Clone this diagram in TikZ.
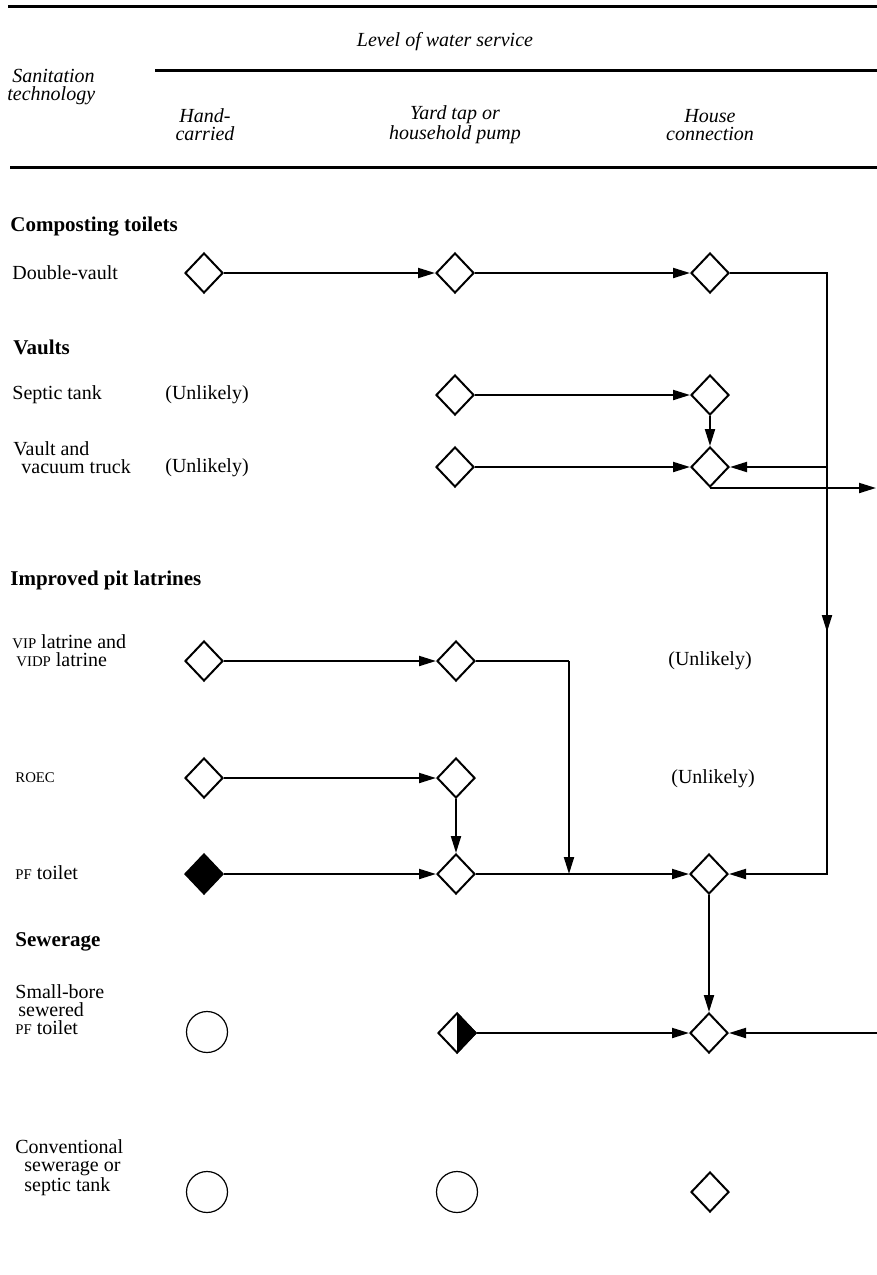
\documentclass[tikz,border=0pt]{standalone}
\usepackage{fontspec}
\setmainfont{Liberation Serif}
\usetikzlibrary{shapes.geometric,arrows.meta}
\newcommand\fsc[1]{{\fontsize{7.4}{9}\selectfont #1}}
\begin{document}
\begin{tikzpicture}[x=0.5pt,y=-0.5pt,
  dia/.style={diamond, draw, line width=1pt, minimum width=19pt, minimum height=20pt, inner sep=0pt, fill=white},
  circ/.style={circle, draw, line width=0.6pt, minimum size=20.5pt, inner sep=0pt},
  arr/.style={line width=1pt, -{Triangle[length=8.5pt,width=5pt]}},
  ln/.style={line width=1pt},
  hl/.style={line width=1.5pt},
  lbl/.style={anchor=west, inner sep=0pt, align=left, font=\fontsize{10}{9}\selectfont},
  sec/.style={anchor=west, inner sep=0pt, font=\fontsize{10.5}{9}\selectfont\bfseries},
  head/.style={inner sep=0pt, align=center, font=\fontsize{10}{9}\selectfont\itshape},
  unl/.style={inner sep=0pt, font=\fontsize{10}{9}\selectfont}]
\useasboundingbox (0,0) rectangle (877,1275);
% header
\draw[hl] (8,6) -- (877,6);
\node[head] (lvl) at (445,42) {Level of water service};
\draw[hl] (155,70) -- (877,70);
\node[head, anchor=west, align=left] (san) at (7,87) {\hspace*{2.5pt}Sanitation\\technology};
\node[head] (h1) at (205,125) {Hand-\\carried};
\node[head] (h2) at (455,125) {Yard tap or\\household pump};
\node[head] (h3) at (710,125) {House\\connection};
\draw[hl] (10,167) -- (877,167);
% row labels
\node[sec] (s1) at (10,227) {Composting toilets};
\node[lbl] (t1) at (12,273) {Double-vault};
\node[sec] (s2) at (13,347) {Vaults};
\node[lbl] (t2) at (12,395) {Septic tank};
\node[lbl] (t3) at (13,458) {Vault and\\\hspace*{4pt}vacuum truck};
\node[sec] (s3) at (10,580) {Improved pit latrines};
\node[lbl] (t4) at (12,651) {\fsc{VIP} latrine and\\\hspace*{2pt}\fsc{VIDP} latrine};
\node[lbl] (t5) at (15,778) {\fsc{ROEC}};
\node[lbl] (t6) at (15,873) {\fsc{PF} toilet};
\node[sec] (s4) at (15,942) {Sewerage};
\node[lbl] (t7) at (15,1010) {Small-bore\\\hspace*{1.5pt}sewered\\\fsc{PF} toilet};
\node[lbl] (t8) at (15,1168) {Conventional\\\hspace*{4.5pt}sewerage or\\\hspace*{4.5pt}septic tank};
\node[unl] (u1) at (207,395) {(Unlikely)};
\node[unl] (u2) at (207,468) {(Unlikely)};
\node[unl] (u3) at (710,661) {(Unlikely)};
\node[unl] (u4) at (713,779) {(Unlikely)};
% symbols
\node[dia] (dv1) at (204,273) {};
\node[dia] (dv2) at (455,273) {};
\node[dia] (dv3) at (710,273) {};
\node[dia] (st2) at (455,395) {};
\node[dia] (st3) at (710,395) {};
\node[dia] (vv2) at (455,467) {};
\node[dia] (vv3) at (710,467) {};
\node[dia] (vip1) at (204,661) {};
\node[dia] (vip2) at (456,661) {};
\node[dia] (ro1) at (204,778) {};
\node[dia] (ro2) at (456,778) {};
\node[dia, fill=black] (pf1) at (204,874) {};
\node[dia] (pf2) at (456,874) {};
\node[dia] (pf3) at (709,874) {};
\node[circ] (sb1) at (207,1032) {};
\node[dia] (sb2) at (457,1033) {};
\fill[black] (sb2.north) -- (sb2.east) -- (sb2.south) -- cycle;
\node[dia] (sb3) at (709,1033) {};
\node[circ] (cv1) at (207,1192) {};
\node[circ] (cv2) at (457,1192) {};
\node[dia] (cv3) at (710,1192) {};
% helper coordinates
\coordinate (rb) at (827,874);
\coordinate (rm1) at (827,600);
\coordinate (rm2) at (827,632);
\coordinate (rv) at (827,467);
\coordinate (eo) at (876,487);
\coordinate (jx) at (569,661);
\coordinate (er) at (877,1033);
% connectors
\draw[arr] (dv1) -- (dv2);
\draw[arr] (dv2) -- (dv3);
\draw[arr] (dv3) -| (rb) -- (pf3);
\draw[arr] (rm1) -- (rm2);
\draw[arr] (st2) -- (st3);
\draw[arr] (st3) -- (vv3);
\draw[arr] (vv2) -- (vv3);
\draw[arr] (rv) -- (vv3);
\draw[arr] (vv3.south) -- (vv3.south -| eo);
\draw[arr] (vip1) -- (vip2);
\draw[ln] (vip2) -- (jx);
\draw[arr] (jx) -- (jx |- pf2);
\draw[arr] (ro1) -- (ro2);
\draw[arr] (ro2) -- (pf2);
\draw[arr] (pf1) -- (pf2);
\draw[arr] (pf2) -- (pf3);
\draw[arr] (pf3) -- (sb3);
\draw[arr] (sb2) -- (sb3);
\draw[arr] (er) -- (sb3);
\end{tikzpicture}
\end{document}
